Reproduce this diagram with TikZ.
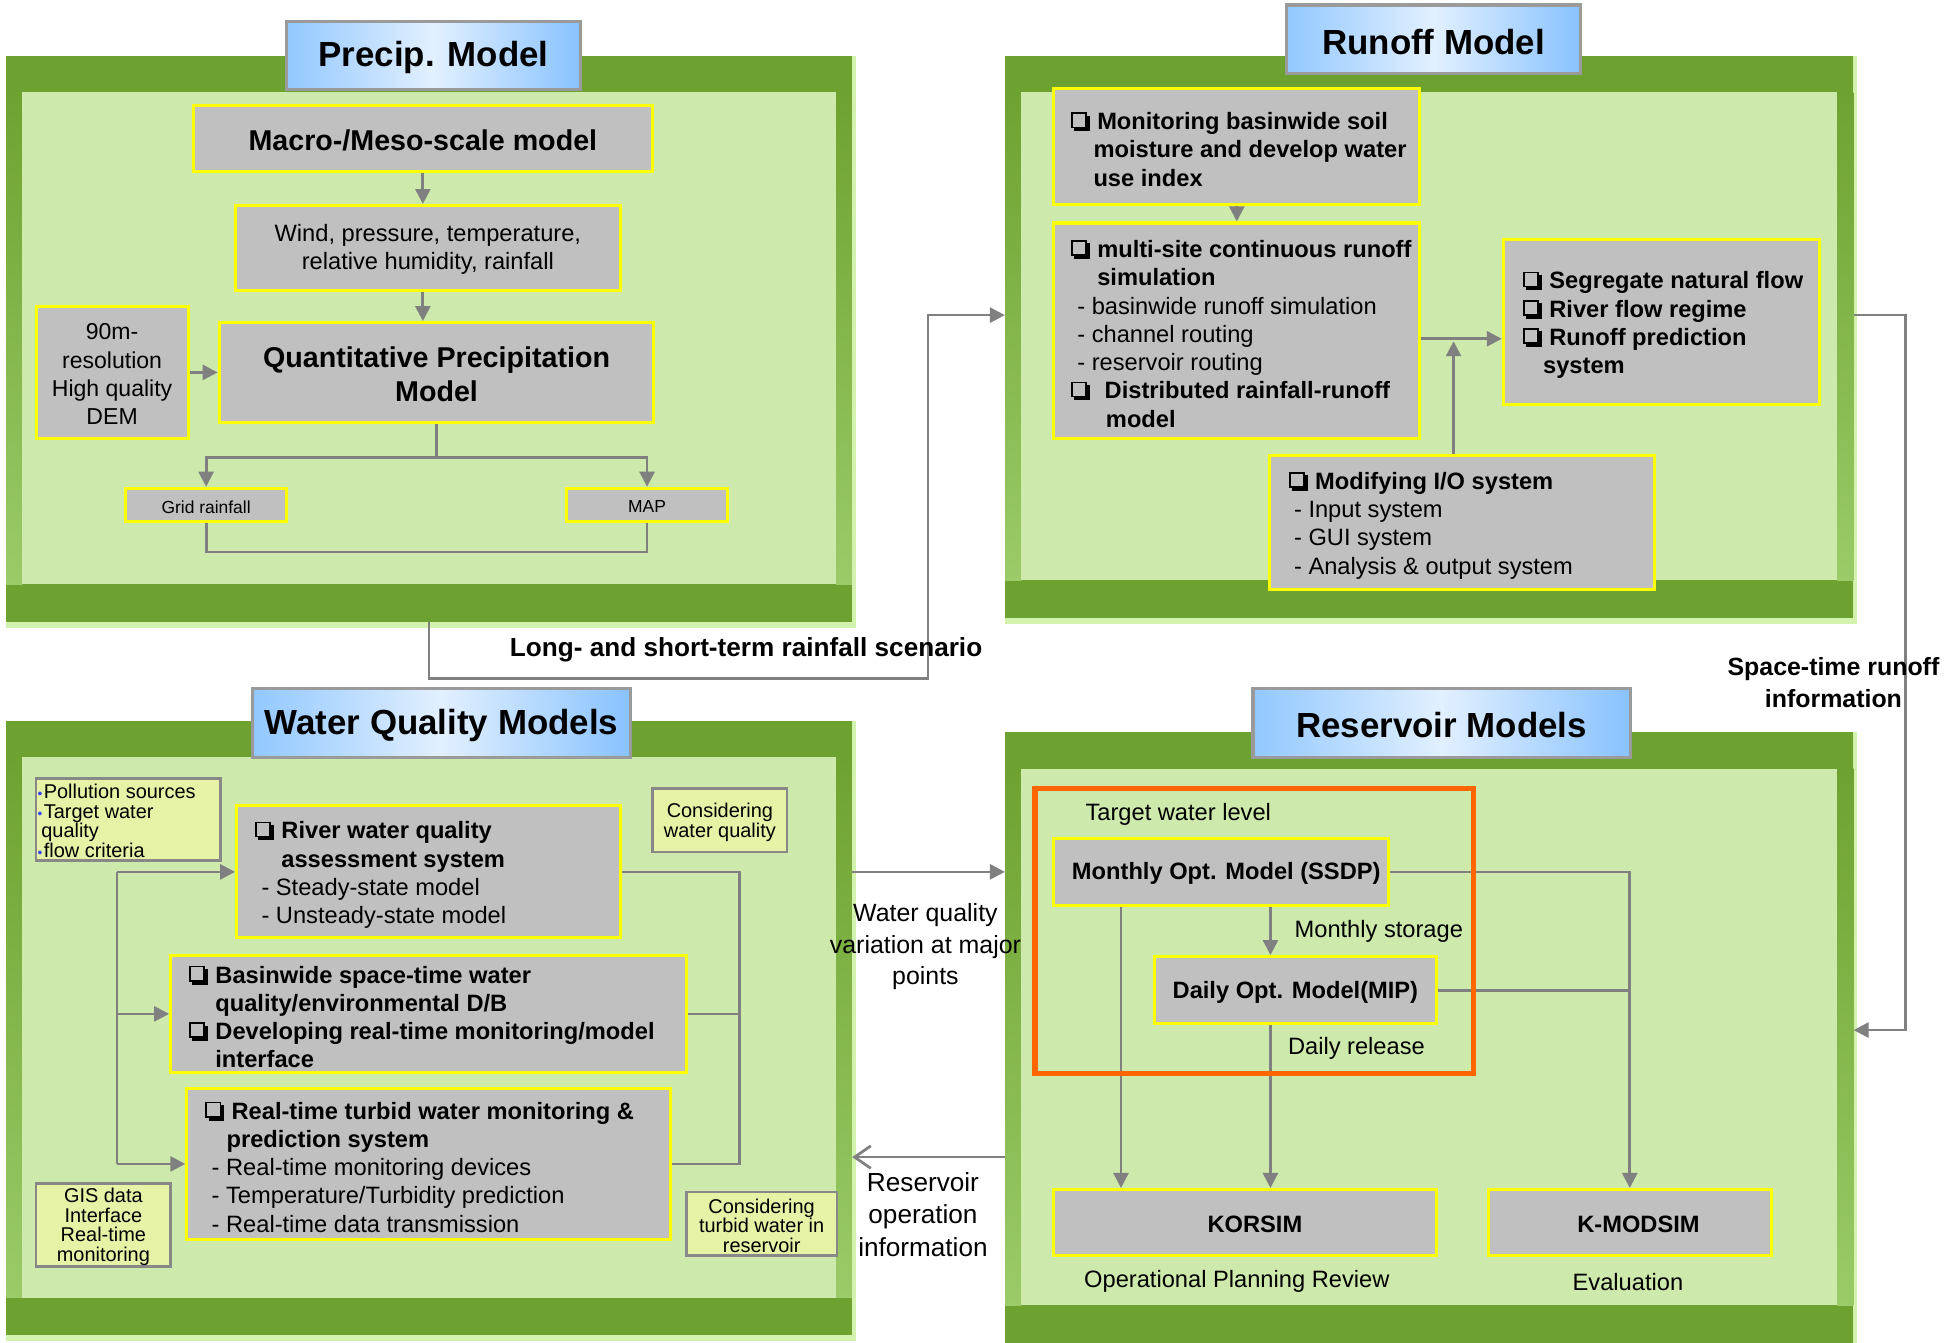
\documentclass[tikz,border=0pt]{standalone}
\usepackage{fontspec}
\setmainfont{Liberation Sans}
\usetikzlibrary{arrows.meta,fit,calc}
\definecolor{dkgreen}{HTML}{6EA230}
\definecolor{midgreen}{HTML}{9ACB68}
\definecolor{inlight}{HTML}{CDE9AB}
\definecolor{glow}{HTML}{D2F2AE}
\definecolor{boxgray}{HTML}{C0C0C0}
\definecolor{boxyellow}{HTML}{FFFF00}
\definecolor{cgray}{HTML}{808080}
\definecolor{notefill}{HTML}{E6F2A6}
\definecolor{notegray}{HTML}{888888}
\definecolor{ttlgray}{HTML}{9A9A9A}
\definecolor{ttlblue}{HTML}{92C8FF}
\definecolor{ttlwhite}{HTML}{E2F0FF}
\definecolor{ttlblue2}{HTML}{88C2FF}
\definecolor{resorange}{HTML}{FF6600}
\definecolor{bulletblue}{HTML}{3344FF}
% shadowed check box (drawn with rules)
\newcommand{\cb}{\begingroup\setlength{\fboxsep}{0pt}\setlength{\fboxrule}{1.3pt}%
\raisebox{2.5pt}{\rlap{\fbox{\rule{0pt}{10pt}\hspace{10pt}}}%
\rlap{\hspace{12.6pt}\raisebox{-3.8pt}{\rule{2.5pt}{12.6pt}}}%
\rlap{\hspace{2.5pt}\raisebox{-3.8pt}{\rule{12.6pt}{2.5pt}}}}\endgroup}
\newcommand{\cbx}[1][21pt]{\makebox[#1][l]{\cb}}
\newcommand{\bul}{\makebox[5pt][l]{\textcolor{bulletblue}{\fontsize{11}{11}\selectfont •}}}
\newcommand{\panel}[5]{%
  \fill[glow] (#2,#3) rectangle (#4+3,#5+5);
  \node[panelbox, fit={(#2,#3) (#4,#5)}] (#1) {};
  \shade[top color=dkgreen, bottom color=midgreen] (#2,#3+29) rectangle (#2+13,#5-30);
  \shade[top color=dkgreen, bottom color=midgreen] (#4-13,#3+29) rectangle (#4,#5-30);
  \fill[inlight] (#2+13,#3+29) rectangle (#4-13,#5-30);
}
\tikzset{
  panelbox/.style={fill=dkgreen, inner sep=0pt},
  gbox/.style={draw=boxyellow, fill=boxgray, line width=2.5pt, inner sep=0pt},
  note/.style={draw=notegray, fill=notefill, line width=2pt, inner sep=0pt},
  ttl/.style={draw=ttlgray, line width=2.5pt, left color=ttlblue, right color=ttlblue2, middle color=ttlwhite, inner sep=0pt},
  ttltext/.style={font=\fontsize{28}{32}\selectfont\bfseries, inner sep=0pt, yshift=-2pt},
  conn/.style={draw=cgray, line width=2.2pt},
  arr/.style={conn, -{Triangle[length=12pt,width=12pt]}},
  openarr/.style={conn, -{Straight Barb[length=13pt,width=18pt]}},
  ctext/.style={inner sep=0pt, align=center, yshift=-1.5pt},
  f14/.style={font=\fontsize{14}{16}\selectfont},
  f16/.style={font=\fontsize{16}{16}\selectfont},
  f19/.style={font=\fontsize{19}{22.7}\selectfont},
  f19b/.style={font=\fontsize{19}{22.7}\selectfont\bfseries},
  f185/.style={font=\fontsize{18.5}{22.7}\selectfont},
  f23b/.style={font=\fontsize{23}{28}\selectfont\bfseries},
  f20/.style={font=\fontsize{20}{25.5}\selectfont},
  f21/.style={font=\fontsize{21}{26}\selectfont},
  f21b/.style={font=\fontsize{21}{26}\selectfont\bfseries},
  f20b/.style={font=\fontsize{20}{26}\selectfont\bfseries},
  lt/.style={inner sep=0pt, align=left, anchor=west, yshift=-2.5pt},
}
\begin{document}
\begin{tikzpicture}[x=1pt,y=-1pt]
\useasboundingbox (0,0) rectangle (1568,1078);
\fill[white] (0,0) rectangle (1568,1078);

% ---------- panels ----------
\panel{pp}{5}{45}{684}{499}
\panel{rp}{807}{45}{1488}{496}
\panel{wp}{5}{579}{684}{1072}
\panel{resp}{807}{588}{1488}{1078}

\node[ttl, fit={(230,17) (466,72)}] (ppt) {};
\node[ttltext] (pptT) at (ppt.center) {Precip. Model};
\node[ttl, fit={(1033,4) (1269,59)}] (rpt) {};
\node[ttltext] (rptT) at (rpt.center) {Runoff Model};
\node[ttl, fit={(203,553) (506,608)}] (wpt) {};
\node[ttltext] (wptT) at (wpt.center) {Water Quality Models};
\node[ttl, fit={(1006,553) (1309,608)}] (respt) {};
\node[ttltext] (resptT) at (respt.center) {Reservoir Models};

% ---------- Precip. Model ----------
\node[gbox, fit={(155,85) (524,138)}] (macro) {};
\node[ctext, f23b] (macroT) at (macro.center) {Macro-/Meso-scale model};
\node[gbox, fit={(189,165) (498,233)}] (wind) {};
\node[ctext, f19] (windT) at (wind.center) {Wind, pressure, temperature,\\relative humidity, rainfall};
\node[gbox, fit={(176,259) (525,339)}] (qpm) {};
\node[ctext, f23b] (qpmT) at (qpm.center) {Quantitative Precipitation\\Model};
\node[gbox, fit={(29,246) (151,352)}] (dem) {};
\node[ctext, f185] (demT) at (dem.center) {90m-\\resolution\\High quality\\DEM};
\node[gbox, fit={(101,392) (230,419)}] (grid) {};
\node[ctext, f14] (gridT) at (grid.center) {Grid rainfall};
\node[gbox, fit={(455,392) (584,419)}] (map) {};
\node[ctext, f14] (mapT) at (map.center) {MAP};

\draw[arr] (macro.south) -- (macro.south |- wind.north);
\draw[arr] (wind.south -| macro.south) -- (macro.south |- qpm.north);
\draw[arr] (dem.east) -- (qpm.west |- dem.east);
\coordinate (pj) at ($(qpm.south)+(0,27)$);
\draw[arr] (qpm.south) -- (pj) -| (grid.north);
\draw[arr] (pj) -| (map.north);
\draw[conn] (grid.south) -- ++(0,23) -| (map.south);

% ---------- Long/short-term connector ----------
\draw[arr] (pp.south) -- (pp.south |- 0,545) -- (745,545) -- (745,253) -- (rp.west |- 0,253);
\node[f21b] (lst) at (599,522) {Long- and short-term rainfall scenario};

% ---------- Runoff Model ----------
\node[gbox, fit={(846,71) (1140,164)}] (mon) {};
\node[gbox, fit={(846,179) (1140,352)}] (multi) {};
\node[gbox, fit={(1207,192) (1461,325)}] (seg) {};
\node[gbox, fit={(1019,366) (1328,473)}] (mod) {};

\draw[arr] (mon.south) -- (mon.south |- multi.north);
\coordinate (rj) at (1167,272);
\draw[arr] (multi.east |- rj) -- (seg.west |- rj);
\draw[arr] (mod.north -| rj) -- ($(rj)+(0,2)$);

\node[f19, lt] (monT) at ([xshift=15pt]mon.west) {\textbf{\cbx Monitoring basinwide soil}\\\textbf{\hspace*{18pt}moisture and develop water}\\\textbf{\hspace*{18pt}use index}};
\node[f19, lt] (multiT) at ([xshift=15pt]multi.west) {\textbf{\cbx multi-site continuous runoff}\\\textbf{\hspace*{21pt}simulation}\\\hspace*{5pt}- basinwide runoff simulation\\\hspace*{5pt}- channel routing\\\hspace*{5pt}- reservoir routing\\\textbf{\cbx[27pt]Distributed rainfall-runoff}\\\textbf{\hspace*{28pt}model}};
\node[f19, lt] (segT) at ([xshift=17pt]seg.west) {\textbf{\cbx Segregate natural flow}\\\textbf{\cbx River flow regime}\\\textbf{\cbx Runoff prediction}\\\textbf{\hspace*{16pt}system}};
\node[f19, lt] (modT) at ([xshift=17pt]mod.west) {\textbf{\cbx Modifying I/O system}\\\hspace*{4pt}- Input system\\\hspace*{4pt}- GUI system\\\hspace*{4pt}- Analysis \& output system};

% ---------- Space-time runoff connector ----------
\draw[arr] (rp.east |- 0,253) -- (1530,253) -- (1530,827) -- (resp.east |- 0,827);
\node[f20b, align=center] (stri) at (1472,548) {Space-time runoff\\information};

% ---------- Water Quality Models ----------
\node[note, fit={(29,625) (177,691)}] (pol) {};
\node[lt, font=\fontsize{16}{15.7}\selectfont, yshift=1.5pt] (polT) at ([xshift=2pt]pol.west) {\bul Pollution sources\\\bul Target water\\\hspace*{3pt}quality\\\bul flow criteria};
\node[note, fit={(524,633) (632,684)}] (cwq) {};
\node[ctext, f16] (cwqT) at (cwq.center) {Considering\\water quality};
\node[gbox, fit={(190,647) (498,753)}] (river) {};
\node[gbox, fit={(137,767) (551,861)}] (basin) {};
\node[gbox, fit={(150,874) (538,995)}] (rt) {};
\node[note, fit={(29,950) (137,1017)}] (gis) {};
\node[ctext, f16] (gisT) at (gis.center) {GIS data\\Interface\\Real-time\\monitoring};
\node[note, fit={(551,957) (672,1008)}] (ctr) {};
\node[ctext, font=\fontsize{16}{15.5}\selectfont] (ctrT) at (ctr.center) {Considering\\turbid water in\\reservoir};

\coordinate (lb) at (94,0);
\coordinate (rbus) at (594,0);
\draw[conn] (lb |- river.west) -- (lb |- rt.west);
\draw[arr] (lb |- river.west) -- (river.west);
\draw[arr] (lb |- basin.west) -- (basin.west);
\draw[arr] (lb |- rt.west) -- (rt.west);
\draw[conn] (river.east) -| (rbus |- rt.east) -- (rt.east);
\draw[conn] (basin.east) -- (rbus |- basin.east);

\node[f19, lt] (riverT) at ([xshift=16pt]river.west) {\textbf{\cbx River water quality}\\\textbf{\hspace*{21pt}assessment system}\\\hspace*{5pt}- Steady-state model\\\hspace*{5pt}- Unsteady-state model};
\node[f19, lt] (basinT) at ([xshift=16pt]basin.west) {\textbf{\cbx Basinwide space-time water}\\\textbf{\hspace*{21pt}quality/environmental D/B}\\\textbf{\cbx Developing real-time monitoring/model}\\\textbf{\hspace*{21pt}interface}};
\node[f19, lt] (rtT) at ([xshift=16pt]rt.west) {\textbf{\cbx Real-time turbid water monitoring \&}\\\textbf{\hspace*{17pt}prediction system}\\\hspace*{5pt}- Real-time monitoring devices\\\hspace*{5pt}- Temperature/Turbidity prediction\\\hspace*{5pt}- Real-time data transmission};

% ---------- between WQ and Reservoir ----------
\draw[arr] (wp.east |- river.west) -- (resp.west |- river.west);
\node[f20, align=center] (wqv) at (743,760) {Water quality\\variation at major\\points};
\draw[openarr] (resp.west |- 0,929) -- (wp.east |- 0,929);
\node[f21, align=center] (roi) at (741,975) {Reservoir\\operation\\information};

% ---------- Reservoir Models ----------
\coordinate (c1) at (900,0);
\coordinate (c2) at (1020,0);
\node[gbox, fit={(846,673) (1115,727)}] (monthly) {};
\node[ctext, f19b] (monthlyT) at ($(monthly.center)+(4,0)$) {Monthly Opt. Model (SSDP)};
\node[gbox, fit={(927,768) (1153,822)}] (daily) {};
\node[ctext, f19b] (dailyT) at (daily.center) {Daily Opt. Model(MIP)};
\node[gbox, fit={(846,955) (1153,1008)}] (korsim) {};
\node[ctext, f19b] (korsimT) at ($(korsim.center)+(8,0)$) {KORSIM};
\node[gbox, fit={(1195,955) (1422,1008)}] (kmod) {};
\node[ctext, f19b] (kmodT) at ($(kmod.center)+(7,0)$) {K-MODSIM};

\draw[arr] (monthly.south -| c1) -- (korsim.north -| c1);
\draw[arr] (monthly.south -| c2) -- (daily.north -| c2);
\draw[arr] (daily.south -| c2) -- (korsim.north -| c2);
\draw[arr] (monthly.east) -| (kmod.north);
\draw[conn] (daily.east) -- (daily.east -| kmod.north);

\node[draw=resorange, line width=4.5pt, inner sep=0pt, fit={(831,633) (1183,862)}] (opt) {};

\node[f19] (twl) at (946,654) {Target water level};
\node[f19] (mst) at (1107,748) {Monthly storage};
\node[f19] (drl) at (1089,842) {Daily release};
\node[f19] (opr) at (993,1029) {Operational Planning Review};
\node[f19] (evl) at (1307,1029) {Evaluation};
\end{tikzpicture}
\end{document}
